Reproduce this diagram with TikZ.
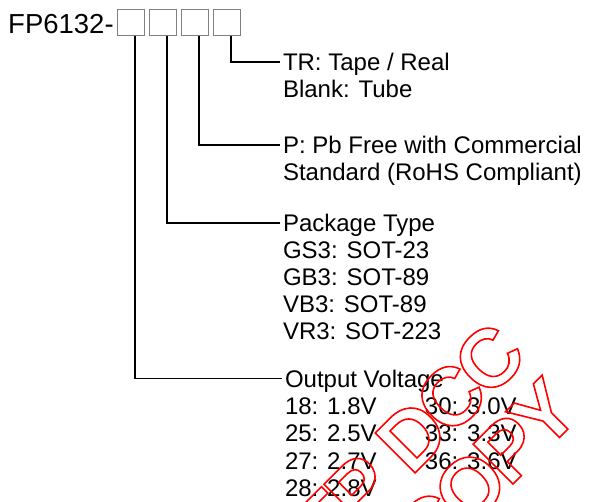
\documentclass[tikz,border=0pt]{standalone}
\usepackage{fontspec}
\setmainfont{Liberation Sans}
\newcommand{\topstrut}{\rule{0pt}{20pt}}
\newcommand{\outlinetext}{\special{pdf:literal direct 1 Tr 1.6 w}}
\begin{document}
\begin{tikzpicture}[x=1pt,y=-1pt,
  pinbox/.style={draw=black!50, line width=1.2pt, minimum width=27pt, minimum height=26pt, inner sep=0pt, outer sep=0pt},
  lead/.style={line width=1.3pt, black},
  lbl/.style={anchor=north west, inner sep=0pt, outer sep=0pt, align=left, font=\fontsize{24}{27}\selectfont},
  wm/.style={inner sep=0pt, text=red, font=\fontsize{82}{82}\selectfont\bfseries\addfontfeatures{LetterSpace=-6}, rotate=45}]
\useasboundingbox (0,0) rectangle (592,501);
\fill[white] (0,0) rectangle (592,501);
% part number
\node[anchor=base west, inner sep=0pt, font=\fontsize{27.5}{27.5}\selectfont] (pn) at (8,33) {FP6132-};
\node[pinbox] (b1) at (131,22.5) {};
\node[pinbox] (b2) at (163,22.5) {};
\node[pinbox] (b3) at (195,22.5) {};
\node[pinbox] (b4) at (227,22.5) {};
% labels
\node[lbl] (tr) at (283,50.5) {\topstrut TR: Tape / Real\\Blank: Tube};
\node[lbl] (pb) at (283,133.5) {\topstrut P: Pb Free with Commercial\\Standard (RoHS Compliant)};
\node[lbl] (pk) at (283,211.5) {\topstrut Package Type\\GS3: SOT-23\\GB3: SOT-89\\VB3: SOT-89\\VR3: SOT-223};
\node[lbl, font=\fontsize{24}{27.4}\selectfont] (ov) at (285,367) {\topstrut Output Voltage\\\makebox[140pt][l]{18: 1.8V}30: 3.0V\\\makebox[140pt][l]{25: 2.5V}33: 3.3V\\\makebox[140pt][l]{27: 2.7V}36: 3.6V\\28: 2.8V};
% leads
\draw[lead] ([xshift=4pt]b4.south) |- ([xshift=-3pt,yshift=-11.5pt]tr.north west);
\draw[lead] ([xshift=4pt]b3.south) |- ([xshift=-3pt,yshift=-11.5pt]pb.north west);
\draw[lead] ([xshift=4pt]b2.south) |- ([xshift=-3pt,yshift=-11.5pt]pk.north west);
\draw[lead] ([xshift=4pt]b1.south) |- ([xshift=-3pt,yshift=-11.5pt]ov.north west);
% watermark
\begin{scope}
\clip (0,0) rectangle (592,501);
\node[wm] (w1) at (409,439) {\outlinetext FP DCC};
\node[wm] (w2) at (486,471) {\outlinetext COPY};
\end{scope}
\end{tikzpicture}
\end{document}
